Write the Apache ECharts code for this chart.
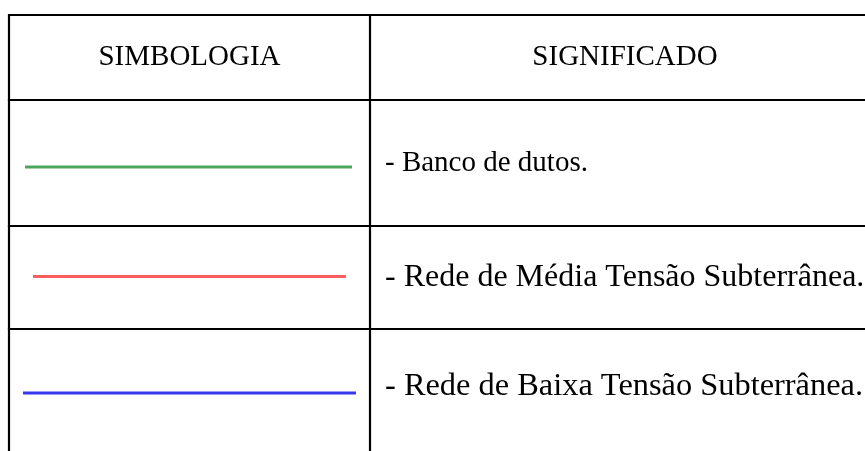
<!DOCTYPE html>
<html>
<head>
<meta charset="utf-8">
<script src="https://cdn.jsdelivr.net/npm/echarts@6/dist/echarts.min.js"></script>
<style>
html,body{margin:0;padding:0;background:#fff;}
#chart{width:865px;height:451px;}
</style>
</head>
<body>
<div id="chart"></div>
<script>
// ---- data ----
const headers = ['SIMBOLOGIA', 'SIGNIFICADO'];
const meanings = [
  '- Banco de dutos.',
  '- Rede de Média Tensão Subterrânea.',
  '- Rede de Baixa Tensão Subterrânea.'
];
const symbolColors = ['#3a9a4c', '#ff4d4d', '#2222ee'];

// ---- layout (table units = pixels of the reference) ----
const colEdges = [9, 370, 880];
const rowEdges = [15, 100, 226, 329, 443];
const symbolSpans = [[25, 352], [33, 346], [23, 356]];
const symbolYOffset = [4, -1, 7];
const textX = 385;
const FONT = 'Liberation Serif, Times New Roman, serif';
const headerFS = 29;
const rowFS = [29, 32, 32.4];

const chart = echarts.init(document.getElementById('chart'), null, {renderer: 'canvas'});

const rowsData = [{value: [0]}].concat(meanings.map((m, i) => ({value: [i + 1]})));

function renderItem(params, api) {
  const r = api.value(0);
  const top = rowEdges[r], bottom = rowEdges[r + 1];
  const mid = (top + bottom) / 2;
  const children = [];
  const P = (x, y) => api.coord([x, y]);
  const lineStyle = {stroke: '#000', lineWidth: 2.2};
  const a = P(colEdges[0] - 1, top), b = P(colEdges[2], top);
  children.push({type: 'line', shape: {x1: a[0], y1: a[1], x2: b[0], y2: b[1]}, style: lineStyle});
  const vBottom = r === rowEdges.length - 2 ? 460 : bottom;
  [colEdges[0], colEdges[1]].forEach(cx => {
    const p1 = P(cx, top - 1), p2 = P(cx, vBottom + 1);
    children.push({type: 'line', shape: {x1: p1[0], y1: p1[1], x2: p2[0], y2: p2[1]}, style: lineStyle});
  });
  if (r === 0) {
    headers.forEach((h, i) => {
      const c = P((colEdges[i] + colEdges[i + 1]) / 2, mid);
      children.push({type: 'text', x: c[0], y: c[1], style: {text: h, fill: '#000', font: headerFS + 'px ' + FONT, align: 'center', verticalAlign: 'middle'}});
    });
  } else {
    const i = r - 1;
    const ly = mid + symbolYOffset[i];
    const s1 = P(symbolSpans[i][0], ly), s2 = P(symbolSpans[i][1], ly);
    children.push({type: 'line', shape: {x1: s1[0], y1: s1[1], x2: s2[0], y2: s2[1]}, style: {stroke: symbolColors[i], lineWidth: 2.8, opacity: 0.9}});
    const t = P(textX, mid);
    children.push({type: 'text', x: t[0], y: t[1], style: {text: meanings[i], fill: '#000', font: rowFS[i] + 'px ' + FONT, align: 'left', verticalAlign: 'middle'}});
  }
  return {type: 'group', children};
}

chart.setOption({
  animation: false,
  backgroundColor: '#fff',
  grid: {left: 0, right: 0, top: 0, bottom: 0},
  xAxis: {type: 'value', min: 0, max: 865, show: false},
  yAxis: {type: 'value', min: 0, max: 451, inverse: true, show: false},
  series: [{
    type: 'custom',
    renderItem: renderItem,
    data: rowsData,
    clip: false
  }]
});
</script>
</body>
</html>
